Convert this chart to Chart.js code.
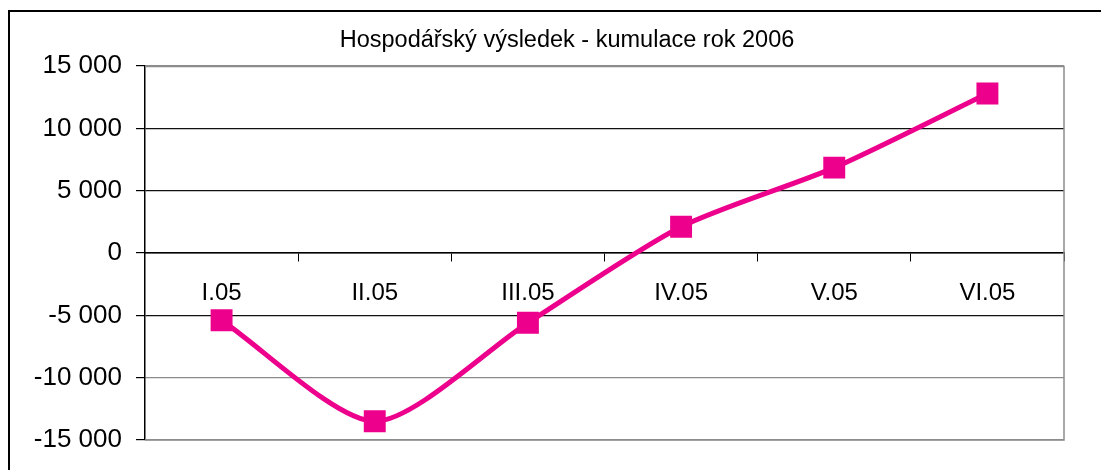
<!DOCTYPE html>
<html>
<head>
<meta charset="utf-8">
<script src="https://cdn.jsdelivr.net/npm/chart.js@4.4.1/dist/chart.umd.min.js"></script>
<style>
  html, body { margin: 0; padding: 0; background: #fff; }
  #wrap { width: 1101px; height: 470px; position: relative; }
</style>
</head>
<body>
<div id="wrap"><canvas id="chart"></canvas></div>
<script>
// Data
const months = ['I.05', 'II.05', 'III.05', 'IV.05', 'V.05', 'VI.05'];
const cumulative = [-5400, -13500, -5600, 2100, 6850, 12800];
const yTicks = [-15000, -10000, -5000, 0, 5000, 10000, 15000];
const chartTitle = 'Hospodářský výsledek - kumulace rok 2006';

const pink = '#ec008c';

// format 15000 -> "15 000"
function fmt(v) {
    const s = Math.abs(v).toString().replace(/\B(?=(\d{3})+(?!\d))/g, ' ');
    return (v < 0 ? '-' : '') + s;
}

// outer frame, title and plot border
const frame = {
    id: 'frame',
    beforeDraw(chart) {
        const ctx = chart.ctx;
        ctx.save();
        ctx.fillStyle = '#fff';
        ctx.fillRect(0, 0, chart.width, chart.height);
        ctx.fillStyle = '#000';
        ctx.fillRect(8, 10, chart.width, 2);
        ctx.fillRect(8, 10, 2, chart.height);
        // title sits a bit right of centre in the original
        ctx.font = '23.5px "Liberation Sans", Arial, sans-serif';
        ctx.textAlign = 'center';
        ctx.textBaseline = 'alphabetic';
        ctx.fillText(chartTitle, 567, 47);
        ctx.restore();
    },
    beforeDatasetsDraw(chart) {
        const a = chart.chartArea;
        const ctx = chart.ctx;
        ctx.save();
        ctx.strokeStyle = '#8c8c8c';
        ctx.lineWidth = 1.5;
        ctx.beginPath();
        ctx.moveTo(a.left, a.top + 0.5);
        ctx.lineTo(a.right, a.top + 0.5);
        ctx.lineTo(a.right, a.bottom);
        ctx.lineTo(a.left, a.bottom);
        ctx.stroke();
        ctx.restore();
    }
};

new Chart(document.getElementById('chart'), {
    type: 'line',
    data: {
        labels: months,
        datasets: [{
            data: cumulative,
            borderColor: pink,
            backgroundColor: pink,
            borderWidth: 5,
            tension: 0.25,
            pointStyle: 'rect',
            pointRadius: 15.5,
            pointHoverRadius: 15.5,
            pointBorderWidth: 0
        }]
    },
    options: {
        responsive: true,
        maintainAspectRatio: false,
        animation: false,
        layout: { padding: { left: 0, right: 37, top: 66, bottom: 30 } },
        plugins: {
            legend: { display: false },
            tooltip: { enabled: false },
            title: { display: false }
        },
        scales: {
            x: {
                position: { y: 0 },
                offset: true,
                grid: {
                    drawOnChartArea: false,
                    drawTicks: true,
                    tickLength: 8,
                    color: '#000',
                    offset: true
                },
                border: { color: '#000', width: 1.5 },
                ticks: {
                    color: '#000',
                    padding: 18,
                    font: { family: 'Liberation Sans, Arial, sans-serif', size: 24 }
                }
            },
            y: {
                min: -15000,
                max: 15000,
                afterBuildTicks(scale) {
                    scale.ticks = yTicks.map(v => ({ value: v }));
                },
                afterFit(scale) { scale.width = 145; },
                grid: {
                    color: ctx => {
                        const v = ctx.tick ? ctx.tick.value : 0;
                        return (v === 15000 || v === -10000 || v === -15000) ? '#8c8c8c' : '#111';
                    },
                    tickColor: '#000',
                    tickLength: 9,
                    lineWidth: 1.2
                },
                border: { color: '#000', width: 1.5 },
                ticks: {
                    color: '#000',
                    padding: 14,
                    font: { family: 'Liberation Sans, Arial, sans-serif', size: 26 },
                    callback: v => fmt(v)
                }
            }
        }
    },
    plugins: [frame]
});
</script>
</body>
</html>
